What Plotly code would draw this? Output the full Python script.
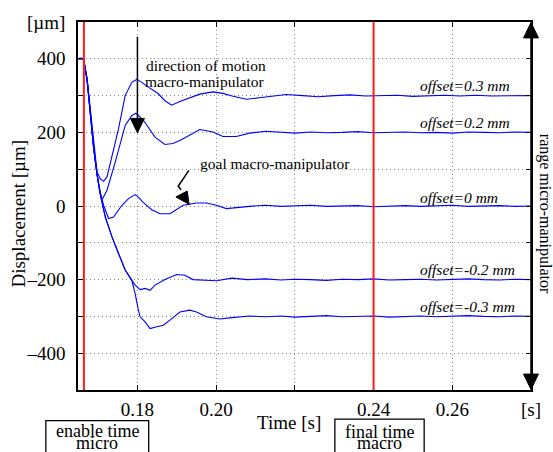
import plotly.graph_objects as go

# ---------------- data ----------------
T_P03 = [0.1649, 0.1655, 0.1660, 0.16635, 0.16721, 0.16805, 0.16888, 0.16974, 0.17057, 0.17141,
         0.17227, 0.17353, 0.1752, 0.17689, 0.17858, 0.17985, 0.18111, 0.18278, 0.18531, 0.1870,
         0.18869, 0.19079, 0.19332, 0.19584, 0.1992, 0.2017, 0.2043, 0.20765, 0.2110, 0.2145,
         0.2178, 0.222, 0.226, 0.230, 0.234, 0.238, 0.242, 0.246, 0.250, 0.254, 0.258, 0.262,
         0.266, 0.270, 0.274, 0.278, 0.280]
V_P03 = [400, 402, 401, 398, 346, 255, 165, 92, 74, 67,
         79, 138, 210, 300, 336, 344, 336, 323, 305, 286,
         274, 284, 293, 304, 310, 306, 298, 290, 294, 298,
         303, 300, 297, 300, 302, 299, 300, 301, 298, 300, 301, 299,
         301, 299, 300, 301, 300]

T_P02 = [0.1649, 0.1655, 0.1660, 0.16635, 0.16721, 0.16805, 0.16888, 0.16974, 0.1704, 0.1710,
         0.17227, 0.17436, 0.17689, 0.17858, 0.17967, 0.18152, 0.18447, 0.1870, 0.18900, 0.19079,
         0.19375, 0.19585, 0.19921, 0.20173, 0.20512, 0.20848, 0.2127, 0.2165, 0.220, 0.224,
         0.228, 0.232, 0.236, 0.240, 0.244, 0.248, 0.252, 0.256, 0.260, 0.264, 0.268, 0.272,
         0.276, 0.280]
V_P02 = [400, 401, 401, 398, 344, 252, 160, 88, 40, 17,
         43, 119, 219, 246, 252, 233, 187, 167, 170, 178,
         196, 208, 201, 189, 189, 198, 203, 200, 198, 201,
         199, 200, 202, 199, 200, 201, 199, 200, 198, 201, 200, 199,
         201, 200]

T_P00 = [0.1649, 0.1655, 0.1660, 0.16635, 0.16721, 0.16805, 0.16888, 0.16974, 0.1706, 0.1714,
         0.17267, 0.17393, 0.17606, 0.17773, 0.17942, 0.18025, 0.18152, 0.18364, 0.18574, 0.18826,
         0.19163, 0.19501, 0.19754, 0.20007, 0.2026, 0.20848, 0.2125, 0.2165, 0.220, 0.224,
         0.228, 0.232, 0.236, 0.240, 0.244, 0.248, 0.252, 0.256, 0.260, 0.264, 0.268, 0.272,
         0.276, 0.280]
V_P00 = [400, 401, 400, 397, 343, 250, 158, 86, 35, 2,
         -34, -30, 2, 20, 31, 24, 9, -10, -21, -21,
         2, 8, 8, 2, -7, -1, 2, -1, 0, 2,
         -1, 0, 1, -2, 0, 1, -1, 0, 2, -1, 0, 1,
         -1, 0]

T_M02 = [0.1649, 0.1655, 0.1660, 0.16635, 0.16721, 0.16805, 0.16888, 0.16974, 0.1706, 0.17184,
         0.17353, 0.1752, 0.17689, 0.17858, 0.17942, 0.18068, 0.18195, 0.18321, 0.18447, 0.1870,
         0.18996, 0.19205, 0.19415, 0.20007, 0.2040, 0.2080, 0.2125, 0.2165, 0.220, 0.224,
         0.228, 0.232, 0.236, 0.240, 0.244, 0.248, 0.252, 0.256, 0.260, 0.264, 0.268, 0.272,
         0.276, 0.280]
V_M02 = [400, 401, 400, 397, 342, 249, 157, 85, 30, -30,
         -84, -129, -174, -202, -215, -227, -224, -229, -215, -200,
         -186, -188, -200, -203, -196, -200, -198, -201, -199, -200,
         -202, -199, -200, -198, -201, -200, -199, -201, -200, -198, -200, -201,
         -199, -200]

T_M03 = [0.1649, 0.1655, 0.1660, 0.16635, 0.16721, 0.16805, 0.16888, 0.16974, 0.1706, 0.17184,
         0.17353, 0.1752, 0.17689, 0.17858, 0.17942, 0.18025, 0.18068, 0.18195, 0.18321, 0.1849,
         0.18657, 0.18826, 0.19079, 0.19332, 0.19501, 0.19754, 0.2009, 0.20348, 0.20848, 0.2125,
         0.2165, 0.220, 0.224, 0.228, 0.232, 0.236, 0.240, 0.244, 0.248, 0.252, 0.256, 0.260,
         0.264, 0.268, 0.272, 0.276, 0.280]
V_M03 = [400, 401, 400, 397, 342, 249, 157, 85, 30, -30,
         -84, -129, -174, -202, -238, -283, -301, -315, -333, -328,
         -324, -310, -288, -283, -288, -301, -307, -304, -299, -301,
         -299, -302, -300, -298, -301, -300, -299, -302, -300, -299, -301, -300,
         -298, -300, -301, -299, -300]

SERIES_T = [T_P03, T_P02, T_P00, T_M02, T_M03]
SERIES_V = [V_P03, V_P02, V_P00, V_M02, V_M03]
SERIES_NAMES = ["offset=0.3 mm", "offset=0.2 mm", "offset=0 mm", "offset=-0.2 mm", "offset=-0.3 mm"]
LABEL_Y = [327, 228, 23, -173, -272]

X_TICKS = [0.18, 0.20, 0.22, 0.24, 0.26, 0.28]
X_TICKTEXT = ["0.18", "0.20", "", "0.24", "0.26", "[s]"]
Y_TICKS = [-500, -400, -300, -200, -100, 0, 100, 200, 300, 400, 500]
Y_TICKTEXT = ["", "\u2013400", "", "\u2013200", "", "0", "", "200", "", "400", "[\u00b5m]"]

ENABLE_TIME = 0.1664
FINAL_TIME = 0.24
X_RANGE = [0.1649, 0.28]
Y_RANGE = [-500, 500]

# ---------------- layout geometry ----------------
W, H = 553, 452
ML, MR, MT, MB = 78, 20, 20, 62
PW = W - ML - MR
PH = H - MT - MB


def px_x(px):
    return (px - ML) / PW


def px_y(py):
    return (H - MB - py) / PH


SERIF = "Liberation Serif"
BLUE = "#0000ff"

fig = go.Figure()
for t, v, name in zip(SERIES_T, SERIES_V, SERIES_NAMES):
    fig.add_trace(go.Scatter(x=t, y=v, mode="lines", name=name,
                             line=dict(color=BLUE, width=1.1), showlegend=False))

shapes = []
# red vertical time markers
for xv in (ENABLE_TIME, FINAL_TIME):
    shapes.append(dict(type="line", xref="x", yref="paper", x0=xv, x1=xv, y0=0, y1=1,
                       line=dict(color="#ff1a1a", width=2), layer="above"))

# "direction of motion" arrow
shapes.append(dict(type="line", xref="x", yref="y", x0=0.18, x1=0.18, y0=460, y1=236,
                   line=dict(color="black", width=1.5), layer="above"))
shapes.append(dict(type="path", xref="x", yref="y",
                   path="M 0.17823,238 L 0.18177,238 L 0.18,199 Z",
                   fillcolor="black", line=dict(color="black", width=1), layer="above"))
# "goal" arrow with kink
shapes.append(dict(type="path", xref="x", yref="y",
                   path="M 0.19307,97 L 0.19036,53.5 L 0.19110,44",
                   line=dict(color="black", width=1.5), layer="above"))
shapes.append(dict(type="path", xref="x", yref="y",
                   path="M 0.18978,24.4 L 0.19264,40.7 L 0.19314,4.6 Z",
                   fillcolor="black", line=dict(color="black", width=1), layer="above"))
# right double arrow (range micro-manipulator)
shapes.append(dict(type="line", xref="paper", yref="paper", x0=1, x1=1,
                   y0=px_y(374), y1=px_y(36), line=dict(color="black", width=1.5)))
shapes.append(dict(type="path", xref="paper", yref="paper",
                   path=f"M {px_x(525.5)},{px_y(36)} L {px_x(540.5)},{px_y(36)} L 1,{px_y(20.5)} Z",
                   fillcolor="black", line=dict(color="black", width=1)))
shapes.append(dict(type="path", xref="paper", yref="paper",
                   path=f"M {px_x(525.5)},{px_y(374)} L {px_x(540.5)},{px_y(374)} L 1,{px_y(389.5)} Z",
                   fillcolor="black", line=dict(color="black", width=1)))
# boxes below the axis
shapes.append(dict(type="rect", xref="paper", yref="paper",
                   x0=px_x(45.7), x1=px_x(149), y0=px_y(470), y1=px_y(420.7),
                   line=dict(color="black", width=1.3), fillcolor="rgba(0,0,0,0)"))
shapes.append(dict(type="rect", xref="paper", yref="paper",
                   x0=px_x(336), x1=px_x(425.7), y0=px_y(470), y1=px_y(419.3),
                   line=dict(color="black", width=1.3), fillcolor="rgba(0,0,0,0)"))

annotations = []


def ann(text, x, y, xref="paper", yref="paper", size=15.5, xanchor="center",
        yanchor="middle", angle=0):
    annotations.append(dict(text=text, x=x, y=y, xref=xref, yref=yref, showarrow=False,
                            xanchor=xanchor, yanchor=yanchor, textangle=angle,
                            font=dict(family=SERIF, size=size, color="black")))


ann("direction of motion", px_x(144), px_y(63.3), xanchor="left")
ann("macro-manipulator", px_x(143.3), px_y(80), xanchor="left")
ann("goal macro-manipulator", px_x(199), px_y(162), xanchor="left")
for name, ly in zip(SERIES_NAMES, LABEL_Y):
    ann(f"<i>{name}</i>", px_x(420), ly, yref="y", xanchor="left")
ann("range micro-manipulator", px_x(546.7), px_y(212.5), size=16, angle=90)
ann("Time [s]", px_x(289.5), px_y(423), size=19)
ann("Displacement [\u00b5m]", px_x(18.3), px_y(213), size=19, angle=-90)
ann("enable time", px_x(97.4), px_y(431.5), size=18)
ann("micro", px_x(97.4), px_y(443.5), size=18)
ann("final time", px_x(380.9), px_y(432.3), size=18)
ann("macro", px_x(380.9), px_y(443.5), size=18)

axis_common = dict(showline=True, linecolor="black", linewidth=1.5, mirror="ticks",
                   ticks="inside", ticklen=5, tickwidth=1, tickcolor="black",
                   showgrid=True, gridcolor="#8a8a8a", gridwidth=1, griddash="1px,3px",
                   zeroline=False, tickfont=dict(family=SERIF, size=19, color="black"))

fig.update_layout(
    width=W, height=H, autosize=False,
    margin=dict(l=ML, r=MR, t=MT, b=MB, pad=0),
    paper_bgcolor="white", plot_bgcolor="white",
    xaxis=dict(range=X_RANGE, tickvals=X_TICKS, ticktext=X_TICKTEXT,
               ticklabelstandoff=1, **axis_common),
    yaxis=dict(range=Y_RANGE, tickvals=Y_TICKS, ticktext=Y_TICKTEXT,
               ticklabelstandoff=7, **axis_common),
    shapes=shapes, annotations=annotations, showlegend=False,
)

fig.write_html("out.html")
